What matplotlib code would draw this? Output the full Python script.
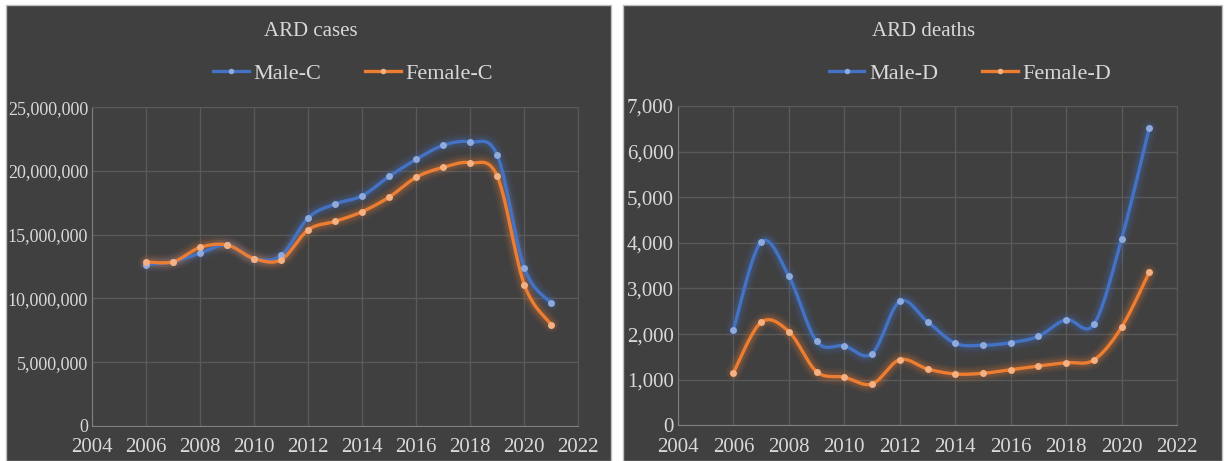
import numpy as np
import matplotlib.pyplot as plt
from matplotlib.patches import Rectangle
from matplotlib.ticker import FuncFormatter, MultipleLocator

plt.rcParams['font.family'] = ['Liberation Serif', 'DejaVu Serif']

years = list(range(2006, 2022))

male_cases = [12650000, 12880000, 13560000, 14190000, 13120000, 13380000, 16330000, 17410000,
              18060000, 19580000, 20920000, 22020000, 22280000, 21230000, 12390000, 9620000]
female_cases = [12860000, 12880000, 14010000, 14190000, 13120000, 13040000, 15390000, 16050000,
                16810000, 17960000, 19510000, 20290000, 20650000, 19580000, 11080000, 7940000]

male_deaths = [2097, 4020, 3268, 1842, 1739, 1571, 2719, 2272,
               1798, 1754, 1812, 1951, 2316, 2214, 4079, 6525]
female_deaths = [1154, 2259, 2053, 1176, 1053, 906, 1439, 1235,
                 1125, 1140, 1219, 1300, 1373, 1432, 2149, 3355]

BG = '#404040'
GRID = '#595959'
TEXT = '#d9d9d9'
BLUE = '#4472c4'
ORANGE = '#ed7d31'
BLUE_DOT = '#8faadc'
ORANGE_DOT = '#f4b183'

W, H = 1225, 461


def smooth(xs, ys, n=30):
    # Catmull-Rom style bezier through every point (like a spreadsheet "smoothed line")
    x = np.asarray(xs, float)
    y = np.asarray(ys, float)
    px = np.concatenate([[x[0]], x, [x[-1]]])
    py = np.concatenate([[y[0]], y, [y[-1]]])
    out_x, out_y = [], []
    t = np.linspace(0, 1, n)
    for i in range(1, len(px) - 2):
        p0 = np.array([px[i], py[i]])
        p3 = np.array([px[i + 1], py[i + 1]])
        p1 = p0 + (p3 - np.array([px[i - 1], py[i - 1]])) / 6
        p2 = p3 - (np.array([px[i + 2], py[i + 2]]) - p0) / 6
        b = ((1 - t) ** 3)[:, None] * p0 + (3 * (1 - t) ** 2 * t)[:, None] * p1 \
            + (3 * (1 - t) * t ** 2)[:, None] * p2 + (t ** 3)[:, None] * p3
        out_x.extend(b[:, 0])
        out_y.extend(b[:, 1])
    return out_x, out_y


def draw_series(ax, xs, ys, color, dot, label):
    sx, sy = smooth(xs, ys)
    for lw, a in [(12, 0.06), (9, 0.09), (6, 0.15)]:
        ax.plot(sx, sy, color=color, lw=lw, alpha=a, solid_capstyle='round', zorder=2)
    ax.plot(sx, sy, color=color, lw=2.4, zorder=3)
    ax.plot(xs, ys, ls='none', marker='o', ms=5, mfc=dot, mec='none', zorder=4)
    # legend proxy
    ax.plot([], [], color=color, lw=2.4, marker='o', ms=4, mfc=dot, mec='none', label=label)


def panel(fig, px0, px1, title, title_x):
    fig.patches.append(Rectangle((px0 / W, 0), (px1 - px0) / W, (H - 5) / H,
                                 transform=fig.transFigure, facecolor=BG,
                                 edgecolor='#bfbfbf', lw=1.0, zorder=-5))
    fig.text(title_x / W, 1 - 31 / H, title, color=TEXT, fontsize=15,
             ha='center', va='center')


def setup_axes(ax, ymax, ystep, ysize):
    ax.set_facecolor('none')
    ax.set_xlim(2004, 2022)
    ax.set_ylim(0, ymax)
    ax.xaxis.set_major_locator(MultipleLocator(2))
    ax.yaxis.set_major_locator(MultipleLocator(ystep))
    ax.yaxis.set_major_formatter(FuncFormatter(lambda v, p: f'{int(v):,}'))
    ax.grid(True, color=GRID, lw=1)
    ax.set_axisbelow(True)
    for s in ['top', 'right']:
        ax.spines[s].set_color(GRID)
    for s in ['left', 'bottom']:
        ax.spines[s].set_color('#7f7f7f')
    ax.tick_params(length=0, colors=TEXT)
    ax.tick_params(axis='x', pad=9, labelsize=15)
    ax.tick_params(axis='y', pad=3, labelsize=ysize)


fig = plt.figure(figsize=(W / 100, H / 100), dpi=100, facecolor='white')

panel(fig, 6, 611, 'ARD cases', 311)
panel(fig, 623, 1222, 'ARD deaths', 924)

ax1 = fig.add_axes([92.3 / W, (H - 425.8) / H, 486 / W, 318.5 / H])
setup_axes(ax1, 25000000, 5000000, 13)
draw_series(ax1, years, male_cases, BLUE, BLUE_DOT, 'Male-C')
draw_series(ax1, years, female_cases, ORANGE, ORANGE_DOT, 'Female-C')

ax2 = fig.add_axes([678 / W, (H - 425.3) / H, 499 / W, 319.3 / H])
setup_axes(ax2, 7000, 1000, 15)
draw_series(ax2, years, male_deaths, BLUE, BLUE_DOT, 'Male-D')
draw_series(ax2, years, female_deaths, ORANGE, ORANGE_DOT, 'Female-D')

for ax, cx in [(ax1, 353), (ax2, 970)]:
    ax.legend(loc='center', bbox_to_anchor=(cx / W, 1 - 74 / H), bbox_transform=fig.transFigure,
              ncol=2, frameon=False, fontsize=16, labelcolor=TEXT, handlelength=1.6,
              handletextpad=0.2, columnspacing=2.0)

fig.savefig('out.png', dpi=100, facecolor='white')
